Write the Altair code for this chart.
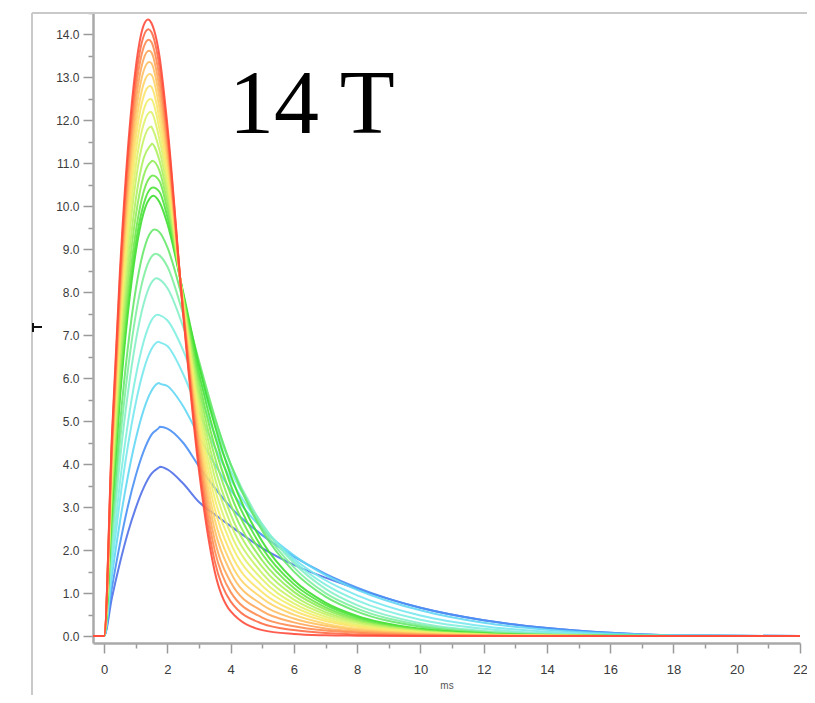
import altair as alt
import pandas as pd

# sample times (ms) shared by every curve
T = [-0.35, 0, 0.25, 0.5, 0.75, 1.0, 1.25, 1.5, 1.75, 2.0, 2.5, 3.0, 3.5, 4.0,
     5.0, 6.0, 7.0, 8.0, 10.0, 12.0, 14.0, 16.0, 18.0, 22.0]

# values, curve 0 = tallest (red) ... curve 22 = lowest (blue)
C00 = [0, 0, 4.70, 8.47, 11.31, 13.22, 14.21, 14.26, 13.50, 11.90, 7.50, 3.85, 1.50, 0.58, 0.14, 0.05, 0.02, 0.01, 0, 0, 0, 0, 0, 0]
C01 = [0, 0, 4.59, 8.28, 11.08, 12.97, 13.96, 14.05, 13.26, 11.74, 7.54, 4.02, 1.74, 0.81, 0.29, 0.14, 0.07, 0.04, 0.01, 0, 0, 0, 0, 0]
C02 = [0, 0, 4.48, 8.10, 10.84, 12.71, 13.70, 13.82, 13.01, 11.57, 7.57, 4.20, 1.99, 1.03, 0.43, 0.23, 0.13, 0.08, 0.02, 0.01, 0, 0, 0, 0]
C03 = [0, 0, 4.37, 7.90, 10.59, 12.43, 13.43, 13.58, 12.77, 11.41, 7.61, 4.38, 2.23, 1.26, 0.58, 0.32, 0.18, 0.11, 0.04, 0.01, 0, 0, 0, 0]
C04 = [0, 0, 4.26, 7.71, 10.34, 12.15, 13.15, 13.33, 12.53, 11.24, 7.64, 4.55, 2.47, 1.49, 0.73, 0.41, 0.24, 0.14, 0.05, 0.02, 0.01, 0, 0, 0]
C05 = [0, 0, 4.15, 7.51, 10.08, 11.86, 12.85, 13.06, 12.29, 11.08, 7.68, 4.73, 2.71, 1.71, 0.88, 0.50, 0.29, 0.17, 0.06, 0.02, 0.01, 0, 0, 0]
C06 = [0, 0, 4.03, 7.30, 9.82, 11.57, 12.56, 12.78, 12.04, 10.91, 7.71, 4.90, 2.96, 1.94, 1.02, 0.59, 0.35, 0.21, 0.07, 0.03, 0.01, 0, 0, 0]
C07 = [0, 0, 3.91, 7.10, 9.54, 11.26, 12.24, 12.49, 11.80, 10.75, 7.75, 5.08, 3.20, 2.17, 1.17, 0.68, 0.40, 0.24, 0.09, 0.03, 0.01, 0, 0, 0]
C08 = [0, 0, 3.77, 6.85, 9.23, 10.92, 11.91, 12.19, 11.56, 10.59, 7.79, 5.25, 3.44, 2.39, 1.32, 0.76, 0.45, 0.27, 0.10, 0.03, 0.01, 0, 0, 0]
C09 = [0, 0, 3.65, 6.62, 8.94, 10.58, 11.55, 11.85, 11.31, 10.42, 7.82, 5.43, 3.69, 2.62, 1.46, 0.85, 0.51, 0.31, 0.11, 0.04, 0.01, 0, 0, 0]
C10 = [0, 0, 3.48, 6.33, 8.56, 10.15, 11.12, 11.45, 11.07, 10.26, 7.86, 5.60, 3.93, 2.84, 1.61, 0.94, 0.56, 0.34, 0.12, 0.04, 0.01, 0, 0, 0]
C11 = [0, 0, 3.34, 6.08, 8.22, 9.77, 10.71, 11.05, 10.83, 10.09, 7.89, 5.77, 4.17, 3.07, 1.76, 1.03, 0.62, 0.37, 0.13, 0.05, 0.02, 0, 0, 0]
C12 = [0, 0, 3.20, 5.83, 7.90, 9.40, 10.34, 10.71, 10.59, 9.93, 7.93, 5.95, 4.41, 3.30, 1.91, 1.12, 0.67, 0.40, 0.15, 0.05, 0.02, 0, 0, 0]
C13 = [0, 0, 3.10, 5.65, 7.66, 9.13, 10.05, 10.43, 10.34, 9.76, 7.96, 6.12, 4.66, 3.52, 2.05, 1.21, 0.73, 0.44, 0.16, 0.06, 0.02, 0, 0, 0]
C14 = [0, 0, 3.02, 5.52, 7.49, 8.93, 9.85, 10.23, 10.10, 9.60, 8.00, 6.30, 4.90, 3.75, 2.20, 1.30, 0.78, 0.47, 0.17, 0.06, 0.02, 0.01, 0, 0]
C15 = [0, 0, 2.67, 4.90, 6.70, 8.06, 8.97, 9.42, 9.40, 9.05, 7.80, 6.40, 5.10, 4.00, 2.45, 1.50, 0.92, 0.57, 0.22, 0.08, 0.03, 0.01, 0, 0]
C16 = [0, 0, 2.44, 4.50, 6.17, 7.47, 8.36, 8.83, 8.86, 8.60, 7.50, 6.25, 5.05, 4.00, 2.52, 1.60, 1.00, 0.64, 0.26, 0.10, 0.04, 0.01, 0, 0]
C17 = [0, 0, 2.20, 4.08, 5.64, 6.86, 7.73, 8.23, 8.30, 8.10, 7.20, 6.05, 4.95, 4.00, 2.60, 1.70, 1.10, 0.72, 0.30, 0.12, 0.05, 0.02, 0, 0]
C18 = [0, 0, 1.91, 3.56, 4.94, 6.04, 6.85, 7.35, 7.47, 7.35, 6.65, 5.65, 4.70, 3.85, 2.60, 1.75, 1.20, 0.83, 0.38, 0.17, 0.07, 0.03, 0.01, 0]
C19 = [0, 0, 1.69, 3.16, 4.41, 5.42, 6.19, 6.68, 6.84, 6.75, 6.10, 5.20, 4.40, 3.65, 2.55, 1.80, 1.30, 0.95, 0.48, 0.23, 0.10, 0.04, 0.01, 0]
C20 = [0, 0, 1.41, 2.65, 3.71, 4.58, 5.26, 5.71, 5.88, 5.82, 5.35, 4.65, 4.00, 3.40, 2.50, 1.88, 1.42, 1.08, 0.60, 0.31, 0.15, 0.06, 0.02, 0]
C21 = [0, 0, 1.13, 2.14, 3.01, 3.73, 4.30, 4.69, 4.86, 4.83, 4.50, 3.95, 3.45, 3.00, 2.35, 1.85, 1.45, 1.13, 0.66, 0.37, 0.19, 0.08, 0.02, 0]
C22 = [0, 0, 0.90, 1.70, 2.40, 2.98, 3.45, 3.78, 3.93, 3.88, 3.55, 3.12, 2.83, 2.56, 2.05, 1.66, 1.36, 1.10, 0.66, 0.37, 0.19, 0.08, 0.02, 0]

CURVES = [C00, C01, C02, C03, C04, C05, C06, C07, C08, C09, C10, C11,
          C12, C13, C14, C15, C16, C17, C18, C19, C20, C21, C22]

# peak of each curve (time, value)
PEAK_T = [1.39, 1.40, 1.41, 1.42, 1.43, 1.44, 1.45, 1.46, 1.48, 1.49, 1.51, 1.52,
          1.54, 1.55, 1.56, 1.60, 1.63, 1.66, 1.69, 1.72, 1.74, 1.76, 1.77]
PEAK_V = [14.35, 14.12, 13.88, 13.62, 13.36, 13.08, 12.80, 12.50, 12.20, 11.86, 11.46, 11.06,
          10.72, 10.44, 10.25, 9.46, 8.90, 8.33, 7.48, 6.85, 5.89, 4.87, 3.94]

COLORS = ["#ff4a3a", "#ff6a45", "#ff8a50", "#ffa55a", "#ffbf60", "#ffd466",
          "#fbe46a", "#f2ee6a", "#e0f26a", "#c8f266", "#aef060", "#90ec58",
          "#6ee84a", "#4ee23a", "#3ede30", "#66e86a", "#80eea0", "#86f0c8",
          "#80eee0", "#78e8ee", "#62d6f4", "#4a90f4", "#5070e8"]

X_TICKS = [0, 1, 2, 3, 4, 5, 6, 7, 8, 9, 10, 11, 12, 13, 14, 15, 16, 17, 18, 19, 20, 21, 22]
Y_TICKS = [0, 0.5, 1, 1.5, 2, 2.5, 3, 3.5, 4, 4.5, 5, 5.5, 6, 6.5, 7, 7.5, 8, 8.5,
           9, 9.5, 10, 10.5, 11, 11.5, 12, 12.5, 13, 13.5, 14, 14.5]

TITLE = "14 T"
X_TITLE = "ms"

x_scale = alt.Scale(domain=[-0.35, 22], nice=False, zero=False)
y_scale = alt.Scale(domain=[-0.16, 14.5], nice=False, zero=False)

x_axis = alt.Axis(
    values=X_TICKS,
    labelExpr="datum.value % 2 === 0 ? datum.label : ''",
    tickSize={"condition": {"test": "datum.value % 2 === 0", "value": 10}, "value": 5},
    domainColor="#a9a9a9", domainWidth=2.5,
    tickColor="#9a9a9a", tickWidth=1.5,
    labelFont="Liberation Sans", labelFontSize=13, labelColor="#3a3a3a",
    labelPadding=10, labelFlush=False, labelOverlap=False, grid=False,
    title=X_TITLE, titleFont="Liberation Sans", titleFontSize=10,
    titleFontWeight="normal", titleColor="#555555", titlePadding=4,
)
y_axis = alt.Axis(
    values=Y_TICKS,
    labelExpr="datum.value % 1 === 0 ? format(datum.value, '.1f') : ''",
    tickSize={"condition": {"test": "datum.value % 1 === 0", "value": 10}, "value": 5},
    domainColor="#a9a9a9", domainWidth=2.5,
    tickColor="#9a9a9a", tickWidth=1.5,
    labelFont="Liberation Sans", labelFontSize=12, labelColor="#3a3a3a",
    labelPadding=4, labelOverlap=False, labelFlush=False, grid=False,
    title="",
)

layers = []
for i in reversed(range(len(CURVES))):
    df = pd.DataFrame({"t": T + [PEAK_T[i]], "v": CURVES[i] + [PEAK_V[i]]})
    df = df.sort_values("t").reset_index(drop=True)
    layers.append(
        alt.Chart(df).mark_line(color=COLORS[i], strokeWidth=2, interpolate="monotone", opacity=0.9)
        .encode(
            x=alt.X("t:Q", scale=x_scale, axis=x_axis),
            y=alt.Y("v:Q", scale=y_scale, axis=y_axis),
            order=alt.Order("t:Q"),
        )
    )

one = pd.DataFrame({"a": [0]})
frame_left = alt.Chart(one).mark_rule(color="#c9c9c9", strokeWidth=2).encode(
    x=alt.value(-61), y=alt.value(0), y2=alt.value(700))
frame_top = alt.Chart(one).mark_rule(color="#c9c9c9", strokeWidth=2).encode(
    x=alt.value(-61), x2=alt.value(730), y=alt.value(0))
marker_h = alt.Chart(one).mark_rule(color="#111111", strokeWidth=2).encode(
    x=alt.value(-60), x2=alt.value(-51), y=alt.value(314))
marker_v = alt.Chart(one).mark_rule(color="#111111", strokeWidth=2).encode(
    x=alt.value(-60), y=alt.value(310), y2=alt.value(319))

title = alt.Chart(pd.DataFrame({"label": [TITLE]})).mark_text(
    font="Liberation Serif", fontSize=90, color="#000000", align="left", baseline="alphabetic"
).encode(text="label:N", x=alt.value(136), y=alt.value(120))

chart = alt.layer(frame_left, frame_top, marker_h, marker_v, *layers, title).properties(
    width=707, height=630,
    autosize=alt.AutoSizeParams(type="none"),
    padding={"left": 85, "top": 5, "right": 7, "bottom": 52},
    background="#ffffff",
).configure_view(strokeWidth=0)

chart.save("out.html", embed_options={"renderer": "svg", "actions": False})
